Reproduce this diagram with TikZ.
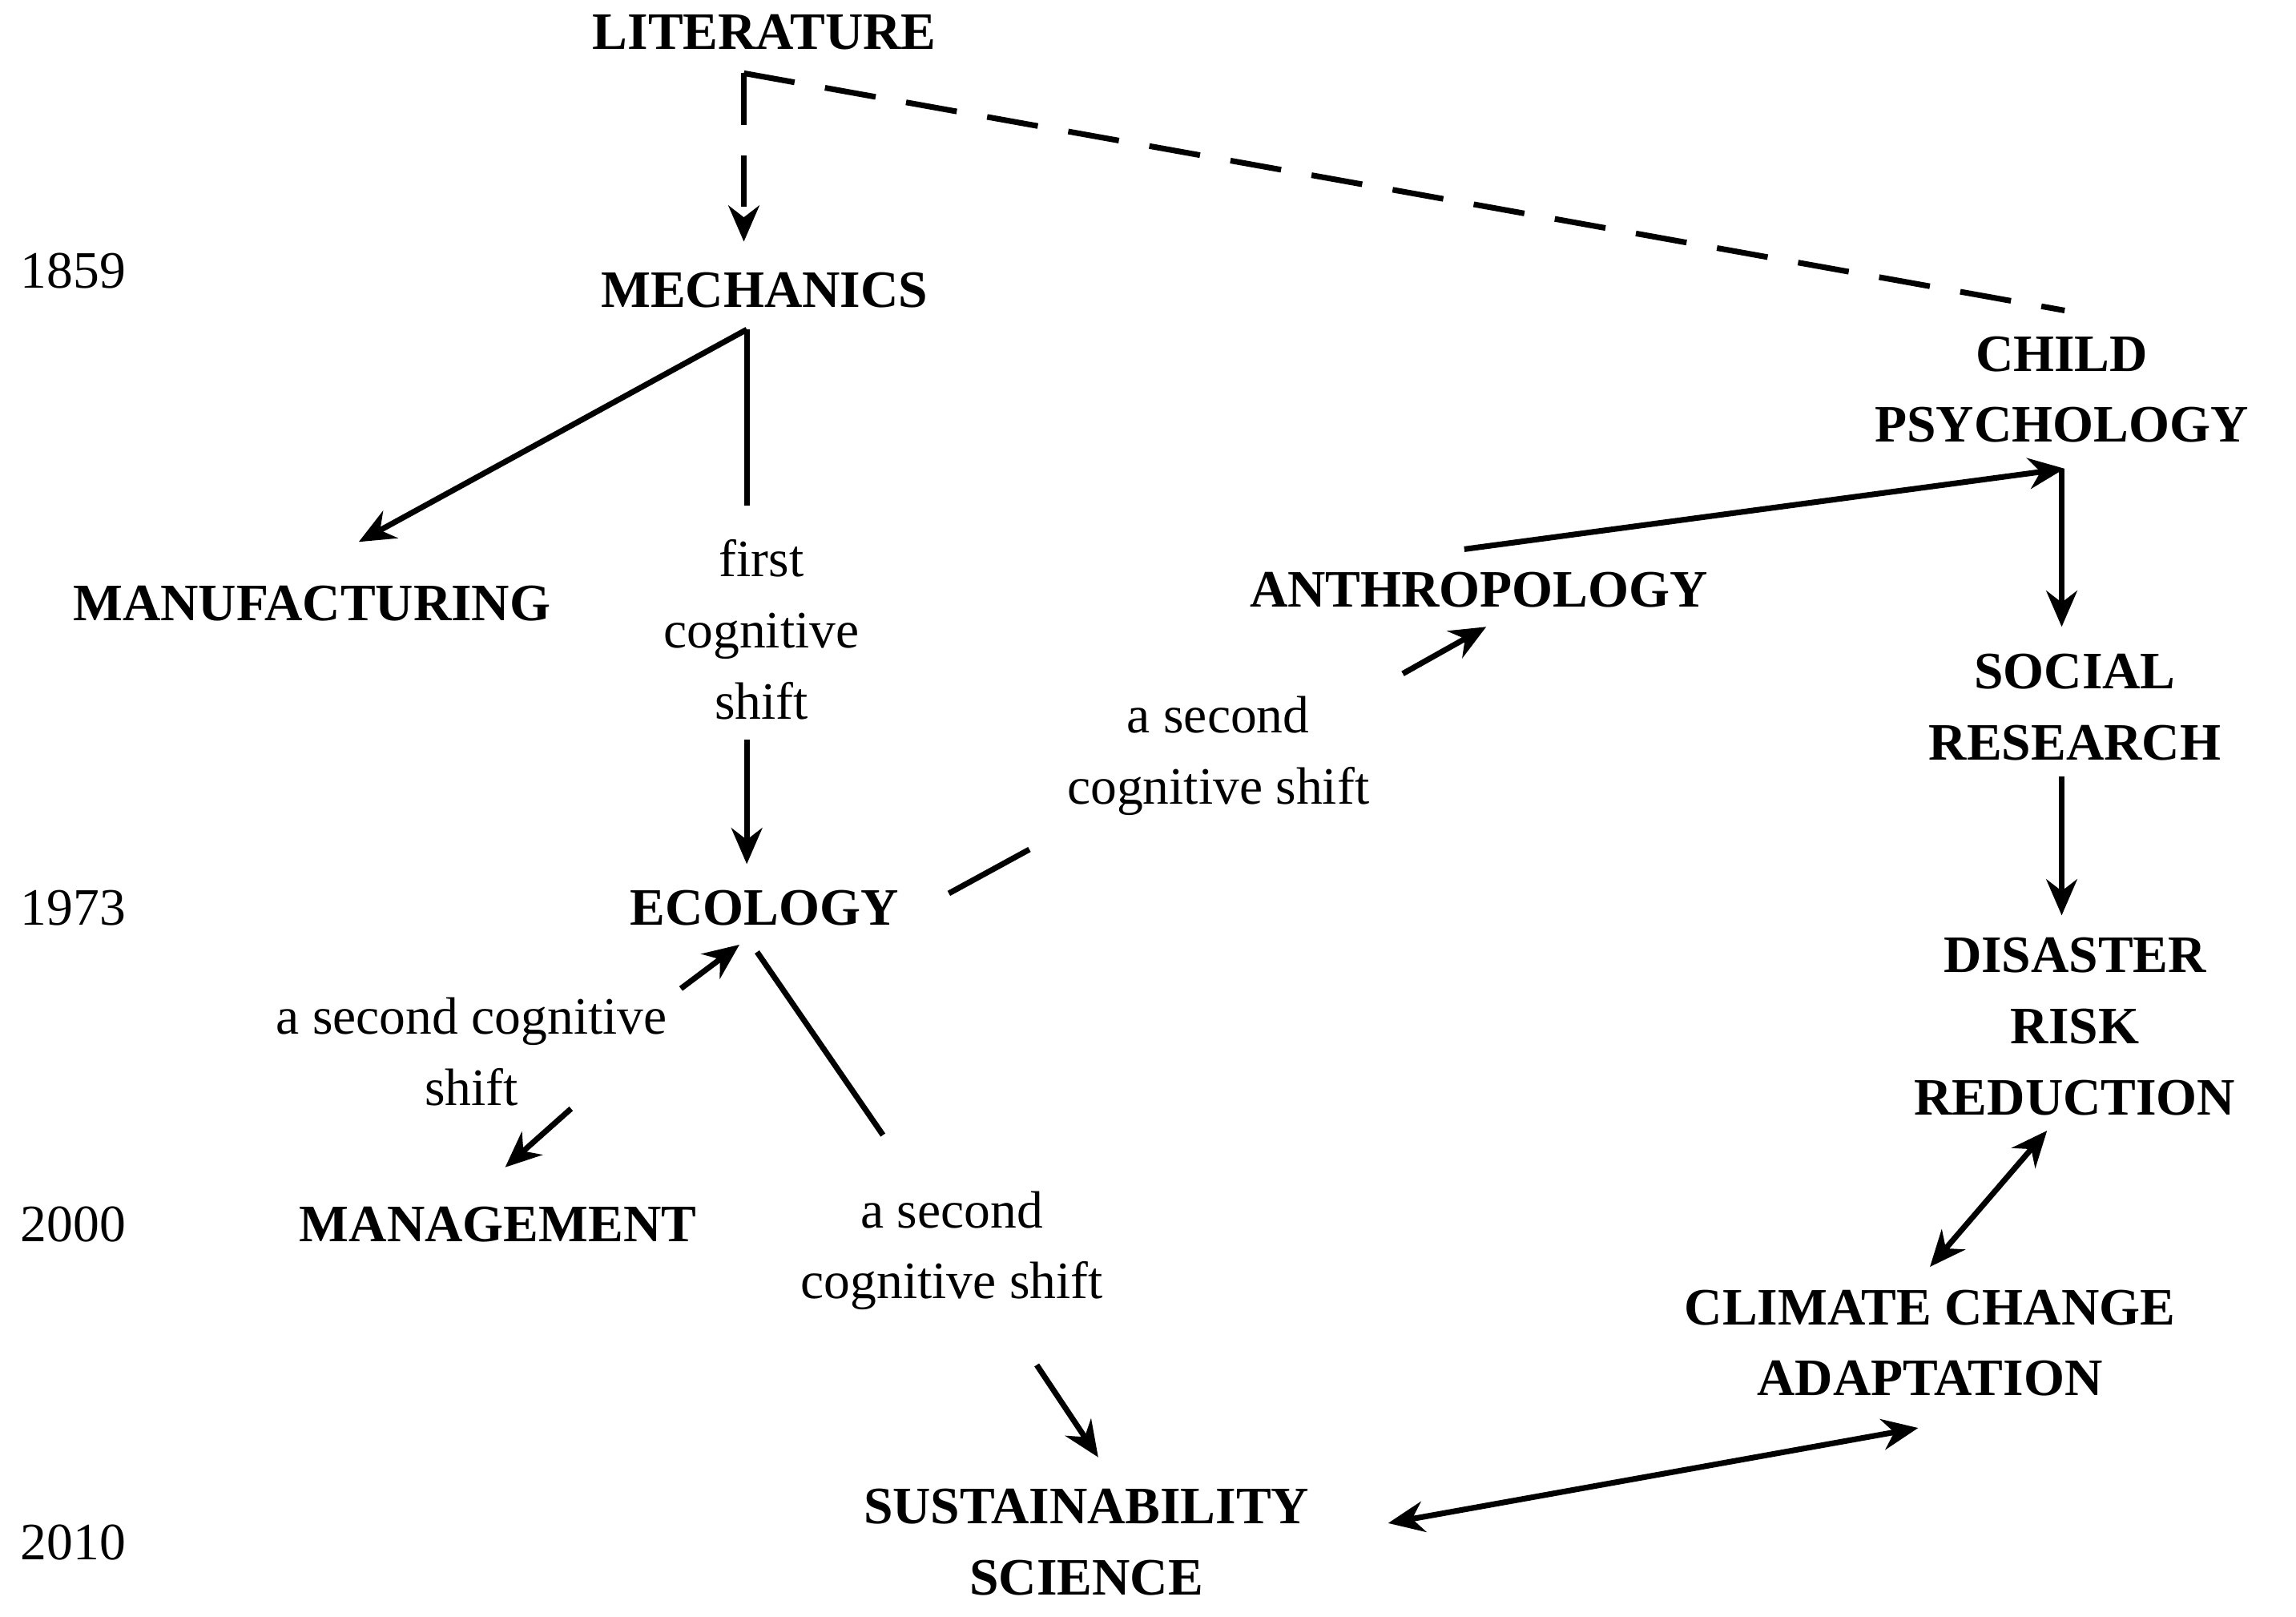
\documentclass[tikz,border=0pt]{standalone}
\usepackage{fontspec}
\setmainfont{Liberation Serif}
\usetikzlibrary{arrows.meta}
\begin{document}
\begin{tikzpicture}[x=0.01cm,y=-0.01cm,
  lab/.style={font=\fontsize{10.2pt}{13.8pt}\selectfont\bfseries,align=center,inner sep=0pt},
  txt/.style={font=\fontsize{10.2pt}{13.8pt}\selectfont,align=center,inner sep=0pt},
  con/.style={line width=1.1pt},
  arr/.style={con,-{Stealth[length=7pt,width=6pt]}},
  darr/.style={con,{Stealth[length=7pt,width=6pt]}-{Stealth[length=7pt,width=6pt]}}]
\useasboundingbox (0,0) rectangle (1568,1104);
\node[lab] (lit) at (522,22) {LITERATURE};
\node[lab] (mech) at (522,198) {MECHANICS};
\node[lab] (manu) at (213,412) {MANUFACTURING};
\node[lab] (eco) at (522,620) {ECOLOGY};
\node[lab] (mgmt) at (340,836) {MANAGEMENT};
\node[lab] (sust) at (742,1053) {SUSTAINABILITY\\SCIENCE};
\node[lab] (anth) at (1010,403) {ANTHROPOLOGY};
\node[lab] (child) at (1408,266) {CHILD\\PSYCHOLOGY};
\node[lab] (soc) at (1417,483) {SOCIAL\\RESEARCH};
\node[lab] (drr) at (1417,701) {DISASTER\\RISK\\REDUCTION};
\node[lab] (cca) at (1318,917) {CLIMATE CHANGE\\ADAPTATION};
\node[txt] (y1) at (50,185) {1859};
\node[txt] (y2) at (50,620) {1973};
\node[txt] (y3) at (50,836) {2000};
\node[txt] (y4) at (50,1053) {2010};
\node[txt] (s1) at (520,430) {first\\cognitive\\shift};
\node[txt] (s2) at (832,516) {a second\\cognitive shift};
\node[txt] (s3) at (322,718) {a second cognitive\\shift};
\node[txt] (s4) at (650,854) {a second\\cognitive shift};
\coordinate (c0) at (508,50);
\coordinate (c1) at (510,225);
\draw[con,dashed,dash pattern=on 10pt off 6pt] (c0) -- (1410,212) coordinate (c2);
\draw[arr,dashed,dash pattern=on 10pt off 6pt] (c0) -- (508,165) coordinate (mtop);
\draw[arr] (c1) -- (245,370) coordinate (manutop);
\draw[con] (c1) -- (510,345) coordinate (s1top);
\draw[arr] (510,505) coordinate (s1bot) -- (510,590) coordinate (ecotop);
\draw[con] (648,610) coordinate (e1) -- (703,580) coordinate (e2);
\draw[arr] (958,460) coordinate (s2a) -- (1015,428) coordinate (anthb);
\draw[arr] (1000,375) coordinate (antht) -- (1410,320) coordinate (chb);
\draw[arr] (1408,320) -- (1408,428) coordinate (soct);
\draw[arr] (1408,530) coordinate (socb) -- (1408,625) coordinate (drrt);
\draw[darr] (1398,772) coordinate (drrb) -- (1318,865) coordinate (ccat);
\draw[darr] (1310,975) coordinate (ccab) -- (948,1040) coordinate (sustr);
\draw[arr] (465,675) coordinate (s3t) -- (505,645) coordinate (ecob);
\draw[arr] (390,757) coordinate (s3b) -- (345,797) coordinate (mgt);
\draw[con] (517,650) coordinate (e3) -- (603,775) coordinate (s4t);
\draw[arr] (708,932) coordinate (s4b) -- (750,995) coordinate (sustt);
\end{tikzpicture}
\end{document}
